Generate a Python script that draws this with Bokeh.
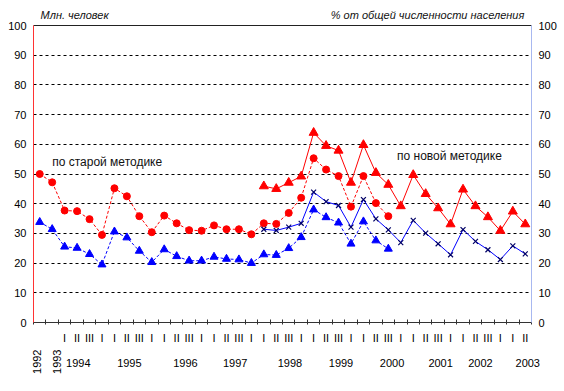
import numpy as np
from bokeh.plotting import figure
from bokeh.models import Range1d, LinearAxis, FixedTicker, Label, ColumnDataSource
from bokeh.embed import file_html
from bokeh.resources import INLINE

# ---------------- data ----------------
categories = (["1992", "1993"]
              + [f"{y} {q}" for y in range(1994, 2003) for q in ("I", "II", "III", "IV")]
              + ["2003 I", "2003 II"])
quarter_labels = ["", ""] + ["I", "II", "III", "I"] * 9 + ["I", "II"]
year_labels = ["1994", "1995", "1996", "1997", "1998", "1999", "2000", "2001", "2002", "2003"]
vertical_year_labels = ["1992", "1993"]
left_title = "Млн. человек"
right_title = "% от общей численности населения"

# old methodology (dashed) : 1992 .. 2000 III
old_red = [50.0, 47.2, 37.7, 37.5, 34.8, 29.5, 45.2, 42.5, 35.8, 30.4, 36.0, 33.4, 31.1, 30.9,
           32.7, 31.4, 31.4, 29.7, 33.4, 33.2, 36.9, 42.0, 55.3, 51.5, 49.3, 39.0, 49.3, 40.2, 35.8]
old_blue = [33.8, 31.4, 25.5, 25.1, 23.0, 19.5, 30.6, 28.6, 24.1, 20.3, 24.6, 22.3, 20.8, 20.8,
            22.1, 21.4, 21.2, 20.0, 22.9, 22.7, 25.0, 28.7, 38.0, 35.4, 33.6, 26.5, 34.0, 27.6, 24.8]
# new methodology (solid) : 1998 I .. 2003 II
new_red = [45.9, 45.0, 47.1, 49.2, 63.9, 59.5, 57.9, 47.1, 59.8, 50.4, 46.4, 39.2, 49.7, 43.3,
           38.5, 33.1, 44.8, 39.2, 35.5, 30.9, 37.4, 33.1]
new_blue = [31.4, 31.0, 32.1, 33.4, 43.9, 40.7, 39.4, 32.1, 41.4, 34.9, 31.2, 26.9, 34.4, 30.1,
            26.5, 22.8, 31.3, 27.3, 24.5, 21.2, 25.8, 23.1]
new_start = categories.index("1998 I")

FONT = "Liberation Sans"

n = len(categories)
centers = np.arange(n) + 0.5
x_old = centers[:len(old_red)]
x_new = centers[new_start:new_start + len(new_red)]

p = figure(width=564, height=391, output_backend="svg", toolbar_location=None,
           x_range=Range1d(0, n), y_range=Range1d(0, 100),
           min_border_left=33, min_border_right=33, min_border_top=25, min_border_bottom=69,
           x_axis_location=None, y_axis_location=None)
p.outline_line_color = None
p.background_fill_color = "white"

# grid
p.xgrid.visible = False
p.ygrid.ticker = FixedTicker(ticks=list(range(10, 100, 10)))
p.ygrid.grid_line_color = "black"
p.ygrid.grid_line_dash = "3 3"
p.ygrid.grid_line_width = 1


def plain_axis(ticks, overrides=None, standoff=7):
    ax = LinearAxis(ticker=FixedTicker(ticks=ticks, minor_ticks=[]))
    ax.axis_line_color = None
    ax.major_tick_line_color = None
    ax.minor_tick_line_color = None
    ax.major_tick_in = 0
    ax.major_tick_out = 0
    ax.minor_tick_in = 0
    ax.minor_tick_out = 0
    if overrides:
        ax.major_label_overrides = overrides
    ax.major_label_standoff = standoff
    ax.major_label_text_font = FONT
    ax.major_label_text_font_size = "11px"
    ax.major_label_text_color = "black"
    return ax


yticks = list(range(0, 101, 10))
left = plain_axis(yticks)
left.axis_line_color = "#ff3333"
p.add_layout(left, "left")

right = plain_axis(yticks)
right.axis_line_color = "#a8b8f0"
p.add_layout(right, "right")

# top border carrying the two italic captions
title_pos = [3.3, 31.65]
top = plain_axis(title_pos, {float(title_pos[0]): left_title, float(title_pos[1]): right_title}, 5)
top.axis_line_color = "#222222"
top.major_label_text_font_style = "italic"
top.major_label_text_color = "#111111"
p.add_layout(top, "above")

# bottom axis: quarter labels, boundary ticks
qticks = [float(c) for c, q in zip(centers, quarter_labels) if q]
qover = {float(c): q for c, q in zip(centers, quarter_labels) if q}
bottom = plain_axis(qticks, qover, 7)
bottom.ticker = FixedTicker(ticks=qticks, minor_ticks=list(range(0, n + 1)))
bottom.axis_line_color = "#333333"
bottom.minor_tick_line_color = "#333333"
bottom.minor_tick_in = 3
bottom.minor_tick_out = 2
p.add_layout(bottom, "below")

# vertical year labels 1992 / 1993
vpos = [0.32, 1.87]
vert = plain_axis(vpos, {float(x): t for x, t in zip(vpos, vertical_year_labels)}, 3)
vert.major_label_orientation = np.pi / 2
p.add_layout(vert, "below")

# horizontal year labels (pulled up next to the quarter labels)
year_pos = [3.6, 7.7, 12.2, 16.2, 20.6, 24.7, 28.8, 32.7, 35.9, 39.7]
years_axis = plain_axis(year_pos, {float(x): t for x, t in zip(year_pos, year_labels)}, -18)
p.add_layout(years_axis, "below")

# series
RED = "#ff0000"
BLUE = "#0000ff"
src_old = ColumnDataSource(dict(x=x_old, red=old_red, blue=old_blue))
src_new = ColumnDataSource(dict(x=x_new, red=new_red, blue=new_blue))

p.line("x", "red", source=src_old, line_color=RED, line_width=1, line_dash="3 2")
p.scatter("x", "red", source=src_old, marker="circle", size=7, fill_color=RED, line_color=RED)
p.line("x", "red", source=src_new, line_color=RED, line_width=1)
p.scatter("x", "red", source=src_new, marker="triangle", size=9, fill_color=RED, line_color=RED)

p.line("x", "blue", source=src_old, line_color=BLUE, line_width=1, line_dash="3 2")
p.scatter("x", "blue", source=src_old, marker="triangle", size=8, fill_color=BLUE, line_color=BLUE)
p.line("x", "blue", source=src_new, line_color=BLUE, line_width=1)
p.scatter("x", "blue", source=src_new, marker="x", size=7, line_color="#000066", line_width=1.2)

# texts
p.add_layout(Label(x=1.5, y=54, text="по старой методике", text_baseline="middle",
                   text_font=FONT, text_font_size="12px", text_color="#111111"))
p.add_layout(Label(x=29.2, y=56, text="по новой методике", text_baseline="middle",
                   text_font=FONT, text_font_size="12px", text_color="#111111"))

open("out.html", "w").write(file_html(p, INLINE))
